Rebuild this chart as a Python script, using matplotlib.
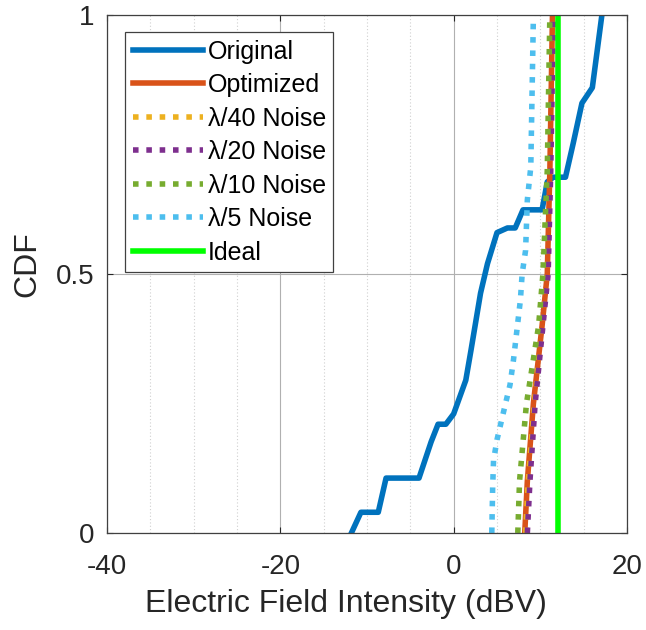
import numpy as np
import matplotlib.pyplot as plt
from matplotlib.ticker import MultipleLocator

plt.rcParams['font.family'] = ['Liberation Sans', 'DejaVu Sans']
plt.rcParams['axes.unicode_minus'] = False

# --------------------------------------------------
# data (x in dBV, y = CDF)
# --------------------------------------------------
orig_x = [-11.8, -10.7, -8.7, -7.8, -4.0, -2.6, -1.8, -0.9, 0.0, 1.4, 2.0, 3.1, 3.9,
          5.0, 6.2, 7.1, 8.0, 10.2, 10.8, 11.5, 12.9, 13.8, 14.8, 16.0, 17.1]
orig_y = [0.0, 0.04, 0.04, 0.106, 0.106, 0.176, 0.21, 0.21, 0.23, 0.295, 0.353, 0.463, 0.52,
          0.58, 0.589, 0.589, 0.624, 0.624, 0.678, 0.687, 0.687, 0.753, 0.83, 0.86, 1.0]

cdf_y = [0.0, 0.1, 0.25, 0.4, 0.5, 0.7, 0.9, 1.0]
opt_x = [8.2, 8.5, 9.2, 10.2, 10.8, 11.1, 11.3, 11.4]
l40_x = [8.3, 8.6, 9.3, 10.2, 10.8, 11.1, 11.3, 11.4]
l20_x = [8.5, 8.8, 9.4, 10.3, 10.9, 11.2, 11.4, 11.5]
l10_x = [7.4, 7.6, 8.4, 9.8, 10.3, 10.8, 11.0, 11.1]

l5_y = [0.0, 0.089, 0.14, 0.18, 0.237, 0.286, 0.334, 0.45, 0.5, 0.546, 0.643, 0.707, 1.0]
l5_x = [4.4, 4.5, 4.6, 5.0, 5.8, 6.5, 6.9, 7.7, 7.9, 8.3, 8.5, 8.9, 9.2]

ideal_x = [12.0, 12.0]
ideal_y = [0.0, 1.0]

# --------------------------------------------------
# plot
# --------------------------------------------------
fig = plt.figure(figsize=(6.46, 6.30), dpi=100)
ax = fig.add_axes([0.1656, 0.154, 0.805, 0.822])

dot = (0, (1, 1.4))
lw = 4.0
ax.plot(orig_x, orig_y, color='#0072BD', lw=lw, label='Original')
ax.plot(opt_x, cdf_y, color='#D95319', lw=lw, label='Optimized')
ax.plot(l40_x, cdf_y, color='#EDB120', lw=lw, ls=dot, label='\u03bb/40 Noise')
ax.plot(l20_x, cdf_y, color='#7E2F8E', lw=lw, ls=dot, label='\u03bb/20 Noise')
ax.plot(l10_x, cdf_y, color='#77AC30', lw=lw, ls=dot, label='\u03bb/10 Noise')
ax.plot(l5_x, l5_y, color='#4DBEEE', lw=lw, ls=dot, label='\u03bb/5 Noise')
ax.plot(ideal_x, ideal_y, color='#00FF00', lw=lw, label='Ideal')

ax.set_xlim(-40, 20)
ax.set_ylim(0, 1)
ax.set_xticks([-40, -20, 0, 20])
ax.set_yticks([0, 0.5, 1])
ax.set_yticklabels(['0', '0.5', '1'])
ax.xaxis.set_minor_locator(MultipleLocator(5))
ax.grid(True, which='major', color='#b0b0b0', lw=0.8)
ax.grid(True, which='minor', axis='x', color='#d0d0d0', lw=0.8, ls=(0, (1, 2)))
ax.set_axisbelow(True)
ax.tick_params(which='major', direction='in', top=True, right=True, length=4,
               labelsize=20, colors='#262626')
ax.tick_params(axis='x', pad=15)
ax.tick_params(axis='y', pad=9)
ax.tick_params(which='minor', length=0)
for s in ax.spines.values():
    s.set_color('#404040')
    s.set_linewidth(0.9)

ax.set_xlabel('Electric Field Intensity (dBV)', fontsize=23, color='#262626')
ax.set_ylabel('CDF', fontsize=23, color='#262626')
ax.xaxis.set_label_coords(0.46, -0.108)
ax.yaxis.set_label_coords(-0.125, 0.52)

leg = ax.legend(loc='upper left', bbox_to_anchor=(0.035, 0.967), fontsize=18,
                fancybox=False, framealpha=1, edgecolor='#404040',
                handlelength=2.8, handletextpad=0.2, labelspacing=0.38,
                borderpad=0.3, borderaxespad=0)
leg.get_frame().set_linewidth(0.9)

fig.savefig('out.png', dpi=100)
